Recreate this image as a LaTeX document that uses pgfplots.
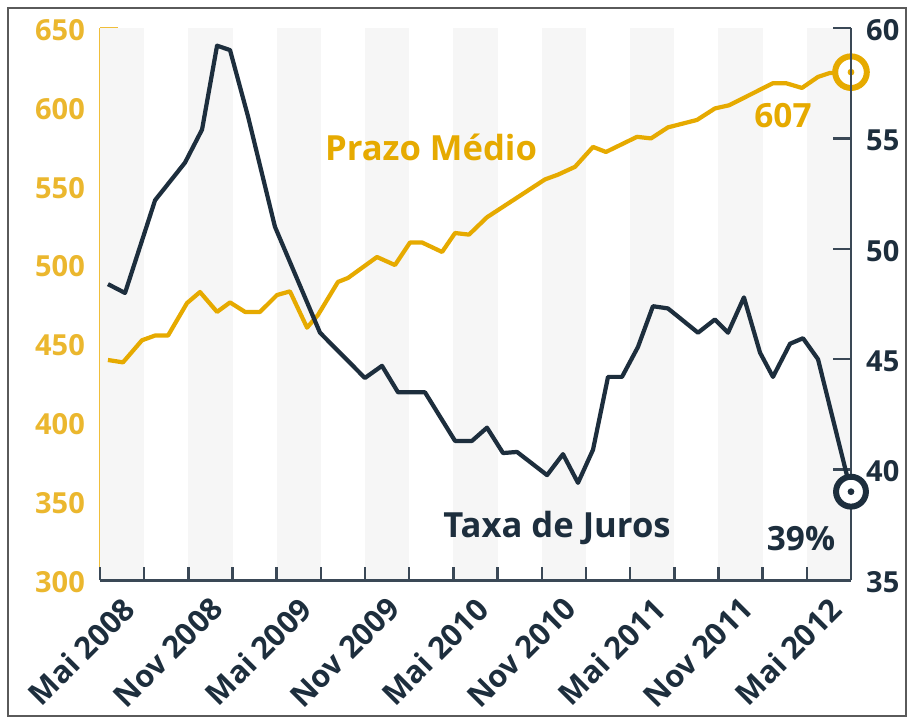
\documentclass[border=0pt]{standalone}
\usepackage{pgfplots}
\pgfplotsset{compat=1.18}
\usepackage{fontspec}
\setmainfont{Open Sans}
\definecolor{gold}{HTML}{E6AA00}
\definecolor{goldaxis}{HTML}{F0BE3A}
\definecolor{goldtxt}{HTML}{EBB72E}
\definecolor{navy}{HTML}{1D2E3D}
\definecolor{navyaxis}{HTML}{3A4856}
\definecolor{stripe}{HTML}{F6F6F6}
\definecolor{frame}{HTML}{5A5A5A}

\pgfplotstableread{
m v
0.54 439.5
1.56 438
2.85 452
3.74 455
4.62 455
5.91 475.6
6.79 482.6
7.95 470
8.83 476
9.85 470
10.87 470
12.02 480.7
12.90 483
14.06 460
14.80 468
16.16 489
16.84 491.5
18.81 504.8
20.03 499.7
21.05 514
21.87 514
23.23 508
24.11 520
25.06 519
26.28 530
30.22 554
31.10 557
32.26 562
33.48 574.6
34.36 571.4
36.47 581
37.42 580
38.57 587
40.54 591.7
41.76 599
42.72 601
45.70 615
46.59 615
47.67 612
48.76 619
49.57 621.5
51.00 622
}\prazo

\pgfplotstableread{
m v
0.54 48.4
1.70 48.0
3.74 52.2
5.77 53.9
6.93 55.4
7.95 59.2
8.83 59.0
10.05 56.0
11.88 51.0
14.94 46.2
17.99 44.15
19.15 44.7
20.24 43.5
22.07 43.5
24.11 41.3
25.26 41.3
26.28 41.9
27.37 40.75
28.32 40.8
30.36 39.75
31.44 40.7
32.46 39.4
33.48 40.9
34.50 44.2
35.45 44.2
36.53 45.55
37.55 47.4
38.57 47.3
40.61 46.2
41.76 46.8
42.65 46.2
43.73 47.8
44.82 45.3
45.70 44.2
46.86 45.7
47.74 45.95
48.76 45.0
51.00 39.0
}\juros

\pgfplotsset{
  base/.style={
    at={(2cm,2.76cm)}, anchor=south west,
    width=15.02cm, height=11.04cm, scale only axis,
    xmin=0, xmax=51, clip=false,
    /pgf/number format/assume math mode=true,
    tick align=inside,
  },
}

\begin{document}
\begin{tikzpicture}
\useasboundingbox (0,0) rectangle (18.16cm,14.36cm);
\fill[white] (0.16cm,0.04cm) rectangle (18.12cm,14.2cm);
\draw[frame, line width=0.04cm] (0.16cm,0.04cm) rectangle (18.12cm,14.2cm);

% left axis: Prazo Medio
\begin{axis}[base,
  ymin=300, ymax=650,
  axis y line*=left, axis x line=none,
  ytick={300,350,...,650},
  y axis line style={-, goldaxis, line width=1.7pt},
  ytick style={goldaxis, line width=1.4pt},
  major tick length=0.36cm,
  yticklabel style={text=goldtxt, font=\fontsize{16.5}{19}\selectfont\bfseries, xshift=-0.18cm, yshift=-0.04cm},
]
\foreach \a in {0,6,...,48}{
  \edef\temp{\noexpand\fill[stripe] (axis cs:\a,300) rectangle (axis cs:\a+3,650);}
  \temp
}
\addplot[gold, line width=2.4pt, line join=round] table[x=m,y=v] {\prazo};
\addplot[only marks, mark=*, mark size=9pt, mark options={draw=gold, fill=white, line width=3.4pt}] coordinates {(51,622)};
\addplot[only marks, mark=*, mark size=1.7pt, mark options={draw=gold, fill=gold}] coordinates {(51,622)};
\end{axis}

% bottom axis
\begin{axis}[base,
  ymin=300, ymax=650,
  axis x line*=bottom, axis y line=none,
  xtick={0,3,...,51},
  xticklabels={,Mai 2008,,Nov 2008,,Mai 2009,,Nov 2009,,Mai 2010,,Nov 2010,,Mai 2011,,Nov 2011,,Mai 2012},
  x axis line style={-, navyaxis, line width=1.7pt},
  xtick style={navyaxis, line width=1.4pt},
  major tick length=0.26cm,
  xticklabel style={text=navy, font=\fontsize{17.5}{20}\selectfont\bfseries, rotate=45, anchor=north east, inner sep=0pt, xshift=-0.54cm, yshift=0.12cm},
]
\end{axis}

% right axis: Taxa de Juros
\begin{axis}[base,
  ymin=35, ymax=60,
  axis y line*=right, axis x line=none,
  ytick={35,40,...,60},
  y axis line style={-, navyaxis, line width=1.7pt},
  ytick style={navyaxis, line width=1.4pt},
  major tick length=0.36cm,
  yticklabel style={text=navy, font=\fontsize{16.5}{19}\selectfont\bfseries, xshift=0.18cm, yshift=-0.04cm},
]
\addplot[navy, line width=2.4pt, line join=round] table[x=m,y=v] {\juros};
\addplot[only marks, mark=*, mark size=8.5pt, mark options={draw=navy, fill=white, line width=3.4pt}] coordinates {(51,39)};
\addplot[only marks, mark=*, mark size=1.7pt, mark options={draw=navy, fill=navy}] coordinates {(51,39)};
\end{axis}

\node[anchor=base, text=gold, font=\fontsize{19.7}{22}\selectfont\bfseries] at (8.62cm,11.16cm) {Prazo Médio};
\node[anchor=base, text=navy, font=\fontsize{19.7}{22}\selectfont\bfseries] at (11.14cm,3.62cm) {Taxa de Juros};
\node[anchor=base, text=gold, font=\fontsize{19}{22}\selectfont\bfseries] at (15.66cm,11.82cm) {607};
\node[anchor=base, text=navy, font=\fontsize{19}{22}\selectfont\bfseries] at (16.02cm,3.36cm) {39\%};
\end{tikzpicture}
\end{document}
